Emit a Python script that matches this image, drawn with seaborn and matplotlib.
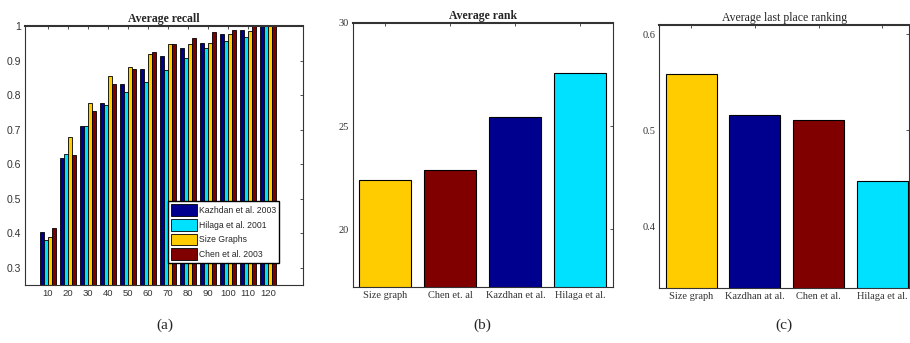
import pandas as pd
import seaborn as sns
import matplotlib.pyplot as plt

# data

groups = ['10', '20', '30', '40', '50', '60', '70', '80', '90', '100', '110', '120']
methods = ['Kazhdan et al. 2003', 'Hilaga et al. 2001', 'Size Graphs', 'Chen et al. 2003']
kazhdan = [0.405, 0.619, 0.712, 0.777, 0.831, 0.876, 0.913, 0.937, 0.952, 0.976, 0.990, 1.0]
hilaga = [0.380, 0.629, 0.712, 0.771, 0.808, 0.838, 0.872, 0.908, 0.936, 0.957, 0.969, 1.0]
size_graphs = [0.390, 0.678, 0.777, 0.855, 0.882, 0.920, 0.947, 0.949, 0.952, 0.976, 0.986, 1.0]
chen = [0.415, 0.627, 0.754, 0.832, 0.876, 0.925, 0.947, 0.964, 0.983, 0.990, 1.0, 1.0]

rank_labels = ['Size graph', 'Chen et. al', 'Kazdhan et al.', 'Hilaga et al.']
rank_values = [22.37, 22.87, 25.46, 27.6]

last_labels = ['Size graph', 'Kazdhan at al.', 'Chen et al.', 'Hilaga et al.']
last_values = [0.559, 0.516, 0.511, 0.447]

navy = '#00008F'
cyan = '#00E0FF'
yellow = '#FFCC00'
maroon = '#800000'

sns.set_style('white')
plt.rcParams['font.family'] = ['Liberation Serif', 'DejaVu Serif']

fig = plt.figure(figsize=(9.1, 3.43), dpi=100)
ax1 = fig.add_axes([0.0275, 0.169, 0.3055, 0.755])
ax2 = fig.add_axes([0.3876, 0.163, 0.286, 0.770])
ax3 = fig.add_axes([0.7245, 0.1595, 0.2747, 0.768])

# (a) grouped bars
recall = pd.DataFrame({'Group': groups * 4,
                       'Method': sum([[m] * len(groups) for m in methods], []),
                       'Recall': kazhdan + hilaga + size_graphs + chen})
sns.barplot(data=recall, x='Group', y='Recall', hue='Method', ax=ax1,
            palette=[navy, cyan, yellow, maroon], width=0.8,
            edgecolor='black', linewidth=0.6, saturation=1)
ax1.set_xlim(-1.15, 12.75)
ax1.set_ylim(0.25, 1.0)
ax1.set_yticks([0.3, 0.4, 0.5, 0.6, 0.7, 0.8, 0.9, 1.0])
ax1.set_yticklabels(['0.3', '0.4', '0.5', '0.6', '0.7', '0.8', '0.9', '1'])
ax1.set_title('Average recall', fontsize=8.5, fontweight='bold', pad=3)
ax1.legend(loc='lower left', bbox_to_anchor=(0.514, 0.085),
           prop={'family': 'Liberation Sans', 'size': 6.2},
           frameon=True, fancybox=False, edgecolor='black', framealpha=1,
           handlelength=3.0, handleheight=1.7, labelspacing=0.35,
           borderpad=0.35, handletextpad=0.3, borderaxespad=0)

# (b) average rank
sns.barplot(x=rank_labels, y=rank_values, hue=rank_labels, ax=ax2,
            palette=[yellow, maroon, navy, cyan], legend=False, width=0.8,
            edgecolor='black', linewidth=0.8, saturation=1)
ax2.set_xlim(-0.5, 3.5)
ax2.set_ylim(17.2, 30)
ax2.set_yticks([20, 25, 30])
ax2.set_title('Average rank', fontsize=8.5, fontweight='bold', pad=3)

# (c) average last place ranking
sns.barplot(x=last_labels, y=last_values, hue=last_labels, ax=ax3,
            palette=[yellow, navy, maroon, cyan], legend=False, width=0.8,
            edgecolor='black', linewidth=0.8, saturation=1)
ax3.set_xlim(-0.5, 3.42)
ax3.set_ylim(0.335, 0.61)
ax3.set_yticks([0.4, 0.5, 0.6])
ax3.set_title('Average last place ranking', fontsize=8.5, pad=3)

for ax in (ax1, ax2, ax3):
    ax.tick_params(direction='in', length=2.5, width=0.6, labelsize=7.5,
                   colors='#333333', top=True, right=True, pad=3)
    for sp in ax.spines.values():
        sp.set_color('#333333')
        sp.set_linewidth(0.8)
    ax.spines['top'].set_linewidth(1.5)
    ax.set_xlabel('')
    ax.set_ylabel('')

# sans labels on panel (a), a bit smaller on x so 100/110/120 keep apart
ax1.tick_params(axis='x', labelsize=6.8)
for lab in ax1.get_xticklabels() + ax1.get_yticklabels():
    lab.set_family(['Liberation Sans', 'DejaVu Sans'])

for x, lab in [(0.181, '(a)'), (0.530, '(b)'), (0.862, '(c)')]:
    fig.text(x, 0.052, lab, ha='center', va='center', fontsize=11)

fig.savefig('out.png', dpi=100)
